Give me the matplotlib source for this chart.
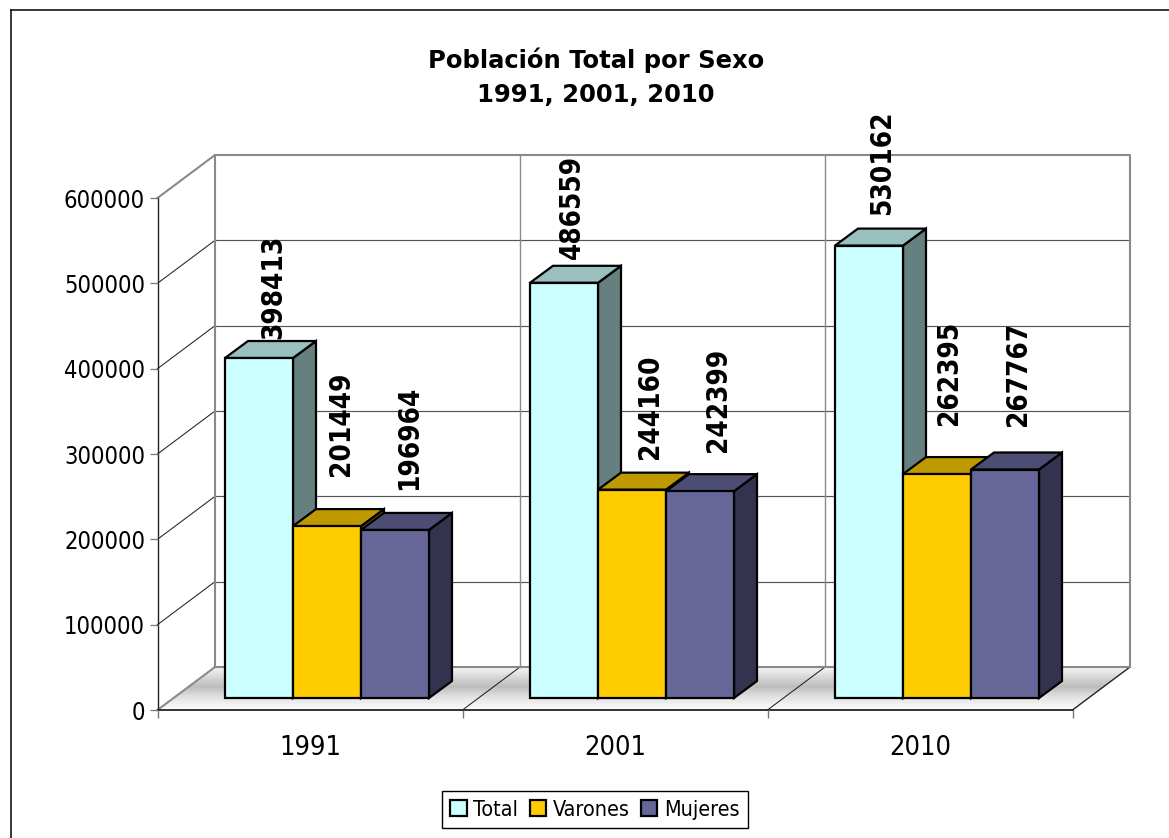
import numpy as np
import matplotlib
matplotlib.use("Agg")
import matplotlib.pyplot as plt
from matplotlib.lines import Line2D
from matplotlib.patches import Polygon, Rectangle

years = ["1991", "2001", "2010"]
series = ["Total", "Varones", "Mujeres"]
total = [398413, 486559, 530162]
varones = [201449, 244160, 262395]
mujeres = [196964, 242399, 267767]
yticks = [0, 100000, 200000, 300000, 400000, 500000, 600000]

W, H = 1169, 838
FRONT_L, FRONT_R, Y0, YTOP = 157.5, 1072.5, 710.0, 198.0
BLUE = ("#CCFFFF", "#99BFBF", "#668080")
GOLD = ("#FFCC00", "#BF9900", "#806600")
PURP = ("#666699", "#4D4D73", "#333350")
colors = [BLUE, GOLD, PURP]
font = dict(family="DejaVu Sans", stretch="condensed")

fig = plt.figure(figsize=(W / 100, H / 100), dpi=100, facecolor="white")
ax = fig.add_axes([FRONT_L / W, 1 - Y0 / H, (FRONT_R - FRONT_L) / W, (Y0 - YTOP) / H])
ax.set_xlim(0, len(years))
ax.set_ylim(0, yticks[-1])
ax.patch.set_alpha(0)
for s in ax.spines.values():
    s.set_visible(False)

px_x = len(years) / (FRONT_R - FRONT_L)
px_y = yticks[-1] / (Y0 - YTOP)
DX, DY = 57.5 * px_x, 43 * px_y    # wall depth
BX, BY = 23 * px_x, 17 * px_y      # bar depth
OX, OY = 17 * px_x, 12 * px_y      # bar front-plane offset
BW = 68 * px_x                     # bar width
nc = len(years)

# chart frame: only the left and top edges fall inside the picture
fig.add_artist(Line2D([11 / W, 11 / W], [0, 1 - 10.5 / H], transform=fig.transFigure, color="black", lw=1.1))
fig.add_artist(Line2D([11 / W, 1], [1 - 10.5 / H, 1 - 10.5 / H], transform=fig.transFigure, color="black", lw=1.1))

# floor gradient
grad = np.interp(np.linspace(0, 1, 64), [0, .1, .3, .47, .7, 1], [.97, .92, .82, .74, .88, .99])
img = ax.imshow(grad[:, None], cmap="gray", vmin=0, vmax=1, extent=[0, nc + DX, 0, DY],
                origin="upper", aspect="auto", zorder=0.5)
floor = Polygon([(0, 0), (nc, 0), (nc + DX, DY), (DX, DY)], transform=ax.transData, fc="none", ec="none")
ax.add_patch(floor)
floor.set_clip_on(False)
img.set_clip_box(fig.bbox)
img.set_clip_path(floor)
ax.set_xlim(0, nc)
ax.set_ylim(0, yticks[-1])

# back wall grid, left wall diagonals
for v in yticks[1:-1]:
    ax.plot([DX, nc + DX], [v + DY, v + DY], color="#555555", lw=0.85, clip_on=False, zorder=1)
    ax.plot([0, DX], [v, v + DY], color="#222222", lw=0.75, clip_on=False, zorder=1)
for i in range(1, nc):
    ax.plot([i + DX, i + DX], [DY, yticks[-1] + DY], color="#8A8A8A", lw=1.0, clip_on=False, zorder=1)
    ax.plot([i, i + DX], [0, DY], color="#222222", lw=0.75, clip_on=False, zorder=1)
ax.plot([nc, nc + DX], [0, DY], color="#222222", lw=1.0, clip_on=False, zorder=1)
# grey wall outline
ax.plot([0, DX, nc + DX, nc + DX, DX], [yticks[-1], yticks[-1] + DY, yticks[-1] + DY, DY, DY],
        color="#8A8A8A", lw=1.5, clip_on=False, zorder=1.2)
ax.plot([DX, DX], [DY, yticks[-1] + DY], color="#8A8A8A", lw=1.5, clip_on=False, zorder=1.2)
ax.plot([0, DX], [0, DY], color="#8A8A8A", lw=1.5, clip_on=False, zorder=1.2)

# front axes
ax.plot([0, 0], [0, yticks[-1]], color="#222222", lw=1.0, clip_on=False, zorder=1.3)
ax.plot([0, nc], [0, 0], color="#222222", lw=1.3, clip_on=False, zorder=1.3)
ax.set_yticks(yticks)
ax.set_yticklabels([str(v) for v in yticks], fontsize=17, color="black", **font)
ax.set_xticks(range(nc + 1))
ax.set_xticklabels([])
ax.tick_params(axis="y", length=6, width=0.9, color="#777777", pad=3)
ax.tick_params(axis="x", length=6, width=1.0, color="#777777")
for i, y in enumerate(years):
    ax.annotate(y, (i + .5, 0), xytext=(0, -38), textcoords="offset pixels", ha="center", va="center",
                fontsize=19.5, annotation_clip=False, **font)

# bars
LABEL_GAPS = [[19, 50, 40], [24, 31, 39], [31, 49, 44]]
LABEL_DX = [[14, 14, 14], [8, 18, 18], [13, 12, 13]]
data = [total, varones, mujeres]
z = 2.0
for i in range(nc):
    for j, vals in enumerate(data):
        v = vals[i]
        x0 = i + .5 + OX + (j - 1.5) * BW
        x1 = x0 + BW
        top = v + OY
        front, topc, side = colors[j]
        poly = dict(ec="black", lw=1.6, joinstyle="miter", clip_on=False)
        ax.add_patch(Polygon([(x1, OY), (x1 + BX, OY + BY), (x1 + BX, top + BY), (x1, top)],
                             fc=side, zorder=z, **poly))
        ax.add_patch(Polygon([(x0, top), (x1, top), (x1 + BX, top + BY), (x0 + BX, top + BY)],
                             fc=topc, zorder=z, **poly))
        ax.bar(x0, v, width=BW, bottom=OY, align="edge", color=front, edgecolor="black", linewidth=1.6,
               zorder=z + .1, clip_on=False)
        z += 0.2
for i in range(nc):
    for j, vals in enumerate(data):
        x0 = i + .5 + OX + (j - 1) * BW
        ax.annotate(str(vals[i]), (x0, vals[i] + OY), xytext=(LABEL_DX[i][j], LABEL_GAPS[i][j]),
                    textcoords="offset pixels", rotation=90, ha="center", va="bottom",
                    fontsize=20, fontweight="bold", zorder=9, annotation_clip=False, **font)

fig.text(596 / W, 1 - 60 / H, "Población Total por Sexo", ha="center", va="center",
         fontsize=17.5, fontweight="bold", family="DejaVu Sans")
fig.text(596 / W, 1 - 95 / H, "1991, 2001, 2010", ha="center", va="center",
         fontsize=17.5, fontweight="bold", family="DejaVu Sans")

# legend
handles = [Rectangle((0, 0), 1, 1, fc=c[0], ec="black", lw=1.6) for c in colors]
leg = fig.legend(handles, series, loc="center", bbox_to_anchor=(595 / W, 1 - 809.5 / H), ncol=3,
                 frameon=True, fancybox=False, edgecolor="black", framealpha=1,
                 handlelength=0.75, handleheight=0.75, handletextpad=0.3, columnspacing=0.55,
                 borderpad=0.4, borderaxespad=0, prop=dict(size=15.5, **font))
leg.get_frame().set_linewidth(1.0)

fig.savefig("out.png", dpi=100, facecolor="white")
